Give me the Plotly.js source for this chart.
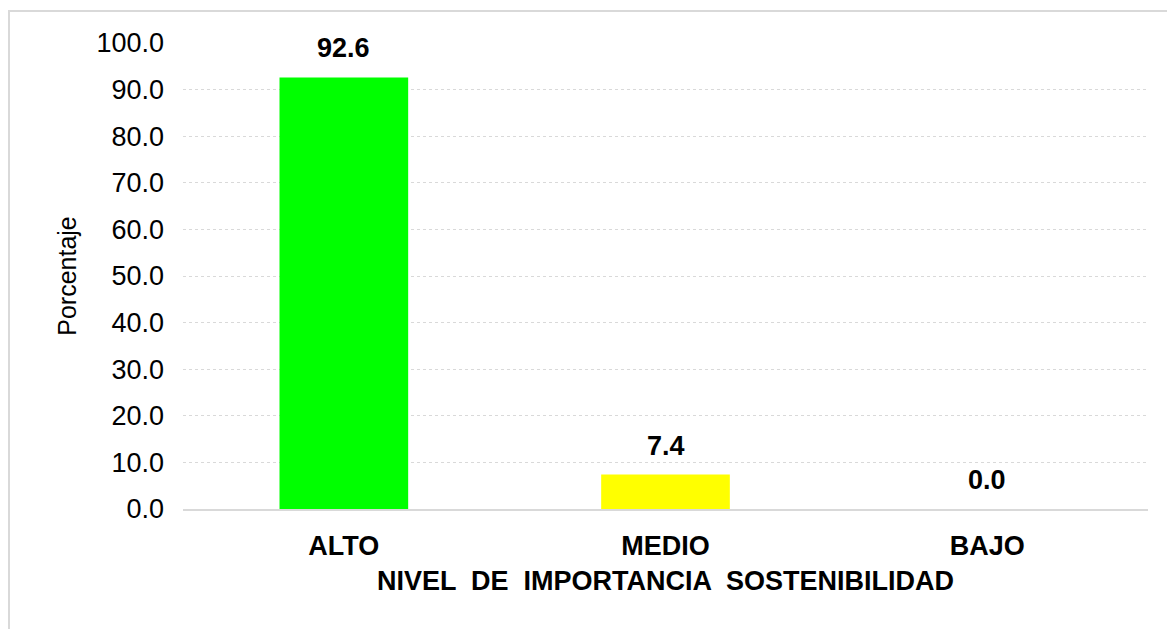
<!DOCTYPE html>
<html>
<head>
<meta charset="utf-8">
<script src="https://cdn.plot.ly/plotly-3.0.1.min.js"></script>
<style>
  html, body { margin: 0; padding: 0; background: #fff; }
  #frame { position: absolute; left: 8px; top: 10px; width: 1159px; height: 619px;
           border-top: 2px solid #d9d9d9; border-left: 2px solid #d9d9d9; box-sizing: border-box; }
  #chart { position: absolute; left: 0; top: 0; width: 1167px; height: 629px; }
</style>
</head>
<body>
<div id="frame"></div>
<div id="chart"></div>
<script>
const categories = ["ALTO", "MEDIO", "BAJO"];
const values = [92.6, 7.4, 0.0];
const barColors = ["#00FF00", "#FFFF00", "#FFC000"];
const yTicks = [0, 10, 20, 30, 40, 50, 60, 70, 80, 90, 100];

const FONT = "Liberation Sans, Arial, sans-serif";

const trace = {
  type: "bar",
  x: categories,
  y: values,
  marker: { color: barColors },
  cliponaxis: false,
  hoverinfo: "x+y"
};

const annotations = categories.map((c, i) => ({
  x: c,
  y: values[i],
  xref: "x",
  yref: "y",
  text: values[i].toFixed(1),
  showarrow: false,
  yanchor: "bottom",
  yshift: 12,
  font: { family: FONT, size: 27, color: "#000", weight: "bold" }
}));

const layout = {
  width: 1167,
  height: 629,
  paper_bgcolor: "rgba(0,0,0,0)",
  plot_bgcolor: "rgba(0,0,0,0)",
  margin: { l: 183, r: 19, t: 43, b: 120 },
  bargap: 0.6,
  showlegend: false,
  font: { family: FONT, color: "#000" },
  annotations: annotations,
  xaxis: {
    type: "category",
    showgrid: false,
    showline: true,
    linecolor: "#d9d9d9",
    linewidth: 2,
    ticks: "",
    tickfont: { family: FONT, size: 27, color: "#000", weight: "bold" },
    ticklabelstandoff: 12,
    title: { text: "NIVEL  DE  IMPORTANCIA  SOSTENIBILIDAD", font: { family: FONT, size: 27, color: "#000", weight: "bold" }, standoff: 11 }
  },
  yaxis: {
    range: [0, 100],
    tickvals: yTicks,
    ticktext: yTicks.map(v => v.toFixed(1)),
    showgrid: true,
    gridcolor: "#d9d9d9",
    griddash: "dot",
    gridwidth: 1,
    zeroline: false,
    showline: false,
    ticks: "",
    ticklabelstandoff: 18,
    tickfont: { family: FONT, size: 27, color: "#000" },
    title: { text: "Porcentaje", font: { family: FONT, size: 25, color: "#000" }, standoff: 12 }
  }
};

Plotly.newPlot("chart", [trace], layout, { displayModeBar: false, staticPlot: true });
</script>
</body>
</html>
